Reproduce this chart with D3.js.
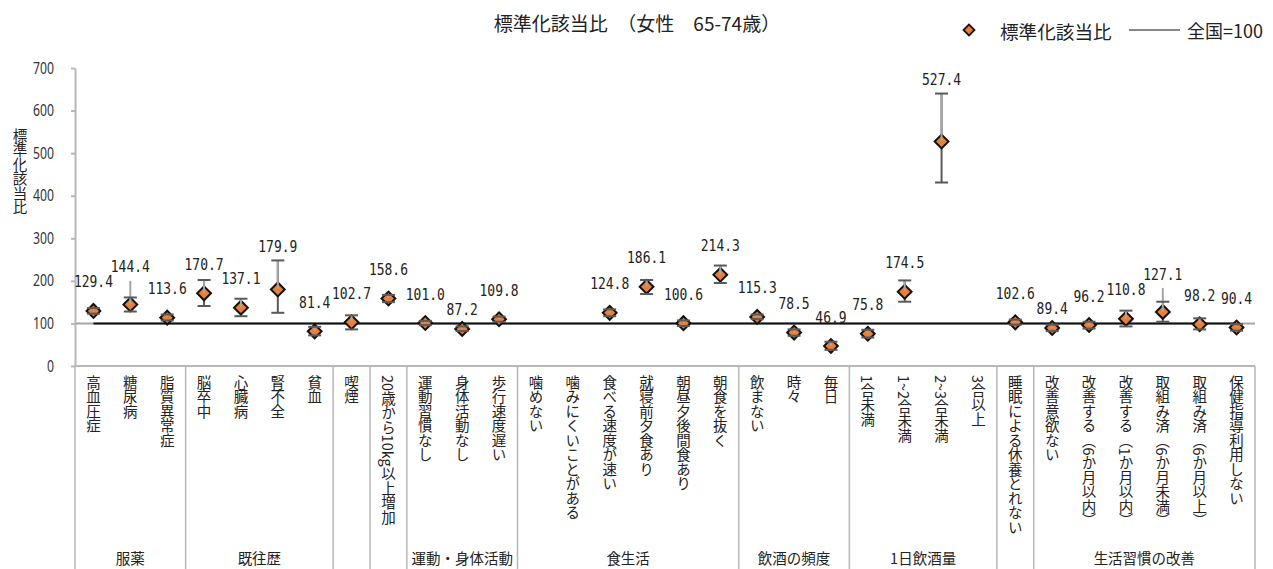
<!DOCTYPE html>
<html>
<head>
<meta charset="utf-8">
<script src="https://cdn.jsdelivr.net/npm/d3@7"></script>
<style>
  body { margin: 0; background: #fff; }
  svg { font-family: "Noto Sans CJK JP", "Noto Sans", sans-serif; }
  .vert { writing-mode: vertical-rl; }
</style>
</head>
<body>
<div id="chart"></div>
<script>
const categories = [
  "高血圧症", "糖尿病", "脂質異常症",
  "脳卒中", "心臓病", "腎不全", "貧血",
  "喫煙",
  "20歳から10kg以上増加",
  "運動習慣なし", "身体活動なし", "歩行速度遅い",
  "噛めない", "噛みにくいことがある", "食べる速度が速い", "就寝前夕食あり", "朝昼夕後間食あり", "朝食を抜く",
  "飲まない", "時々", "毎日",
  "1合未満", "1~2合未満", "2~3合未満", "3合以上",
  "睡眠による休養とれない",
  "改善意欲ない", "改善する（6か月以内）", "改善する（1か月以内）", "取組み済（6か月未満）", "取組み済（6か月以上）", "保健指導利用しない"
];
const values = [
  129.4, 144.4, 113.6,
  170.7, 137.1, 179.9, 81.4,
  102.7,
  158.6,
  101.0, 87.2, 109.8,
  null, null, 124.8, 186.1, 100.6, 214.3,
  115.3, 78.5, 46.9,
  75.8, 174.5, 527.4, null,
  102.6,
  89.4, 96.2, 110.8, 127.1, 98.2, 90.4
];
const ciLow = [
  123, 128, 107,
  141, 117, 125, 72,
  86,
  150,
  96, 82, 104,
  null, null, 117, 169, 94, 195,
  110, 71, 38,
  67, 151, 431, null,
  97,
  82, 88, 93, 104, 86, 83
];
const ciHigh = [
  136, 161, 121,
  202, 158, 248, 92,
  119,
  167,
  106, 93, 116,
  null, null, 133, 202, 107, 236,
  121, 86, 57,
  85, 201, 640, null,
  109,
  97, 104, 130, 151, 112, 98
];
// upper whisker in light grey, when it reaches beyond the capped interval
const lightTop = [
  null, 200, null,
  null, null, null, null,
  null,
  null,
  null, null, null,
  null, null, null, null, null, null,
  null, null, null,
  null, null, null, null,
  null,
  null, null, null, 183, null, null
];
const groupNames = ["服薬", "既往歴", "", "", "運動・身体活動", "食生活", "飲酒の頻度", "1日飲酒量", "", "生活習慣の改善"];
const groupSizes = [3, 4, 1, 1, 3, 6, 3, 4, 1, 6];
const yTicks = [0, 100, 200, 300, 400, 500, 600, 700];
const refValue = 100;

const width = 1273, height = 569;
const plotLeft = 75, plotRight = 1255, plotTop = 68, plotBottom = 366;

const svg = d3.select("#chart").append("svg")
  .attr("width", width)
  .attr("height", height);

const x = d3.scaleBand()
  .domain(d3.range(categories.length))
  .range([plotLeft, plotRight]);
const cx = i => x(i) + x.bandwidth() / 2;

const y = d3.scaleLinear()
  .domain([0, 700])
  .range([plotBottom, plotTop]);

// title
svg.append("text")
  .attr("x", 637).attr("y", 22)
  .attr("text-anchor", "middle")
  .attr("dominant-baseline", "central")
  .attr("font-size", 19)
  .attr("fill", "#222")
  .text("標準化該当比　（女性　65-74歳）");

// legend
const legend = svg.append("g");
legend.append("path")
  .attr("d", d3.symbol(d3.symbolSquare, 60)())
  .attr("transform", "translate(969,30) rotate(45)")
  .attr("fill", "#ed7d31").attr("stroke", "#111").attr("stroke-width", 1.8);
legend.append("text")
  .attr("x", 1000).attr("y", 30)
  .attr("dominant-baseline", "central")
  .attr("font-size", 18.6).attr("fill", "#222")
  .text("標準化該当比");
legend.append("line")
  .attr("x1", 1129).attr("x2", 1180).attr("y1", 30).attr("y2", 30)
  .attr("stroke", "#111").attr("stroke-width", 1);
legend.append("text")
  .attr("x", 1187).attr("y", 30)
  .attr("dominant-baseline", "central")
  .attr("font-size", 18).attr("fill", "#222")
  .text("全国=100");

// y axis title, written vertically
svg.append("text")
  .attr("class", "vert")
  .attr("x", 20).attr("y", 128)
  .attr("font-size", 14.5)
  .attr("fill", "#222")
  .text("標準化該当比");

// y axis
const yAxis = svg.append("g")
  .attr("transform", `translate(${plotLeft},0)`)
  .call(d3.axisLeft(y).tickValues(yTicks).tickSize(4).tickSizeOuter(0).tickPadding(17));
yAxis.select(".domain").attr("stroke", "#b7b7b7").attr("stroke-width", 2);
yAxis.selectAll(".tick line").attr("stroke", "#b7b7b7").attr("stroke-width", 2);
yAxis.selectAll(".tick text")
  .attr("font-size", 16)
  .attr("font-family", "'Noto Sans', sans-serif")
  .attr("fill", "#333")
  .attr("textLength", d => String(d).length * 7)
  .attr("lengthAdjust", "spacingAndGlyphs");

// category table under the plot
svg.append("line")
  .attr("x1", plotLeft).attr("x2", plotRight)
  .attr("y1", plotBottom).attr("y2", plotBottom)
  .attr("stroke", "#b7b7b7").attr("stroke-width", 2);

let start = 0;
const groups = groupNames.map((name, i) => {
  const g = { name: name, start: start, end: start + groupSizes[i] };
  start += groupSizes[i];
  return g;
});
const bounds = [0].concat(groups.map(g => g.end));
const edge = b => b < categories.length ? x(b) : plotRight;

svg.selectAll("line.sep")
  .data(bounds)
  .enter().append("line")
  .attr("class", "sep")
  .attr("x1", edge).attr("x2", edge)
  .attr("y1", plotBottom).attr("y2", height)
  .attr("stroke", "#b7b7b7").attr("stroke-width", 1.5);

svg.selectAll("text.cat")
  .data(categories)
  .enter().append("text")
  .attr("class", "cat vert")
  .attr("x", (d, i) => cx(i))
  .attr("y", 375)
  .attr("font-size", 14.5)
  .attr("fill", "#222")
  .text(d => d);

svg.selectAll("text.group")
  .data(groups.filter(g => g.name))
  .enter().append("text")
  .attr("class", "group")
  .attr("x", g => (edge(g.start) + edge(g.end)) / 2)
  .attr("y", 557)
  .attr("text-anchor", "middle")
  .attr("dominant-baseline", "central")
  .attr("font-size", 14.5)
  .attr("fill", "#222")
  .text(g => g.name);

// national reference line
svg.append("line")
  .attr("x1", plotLeft + 1).attr("x2", plotRight)
  .attr("y1", y(refValue)).attr("y2", y(refValue))
  .attr("stroke", "#a6a6a6").attr("stroke-width", 2);
const refLine = d3.line()
  .x(i => cx(i))
  .y(() => y(refValue));
svg.append("path")
  .datum([0, categories.length - 1])
  .attr("fill", "none")
  .attr("stroke", "#111")
  .attr("stroke-width", 2)
  .attr("d", refLine);

const pts = values.map((v, i) => ({
  i: i, v: v, lo: ciLow[i], hi: ciHigh[i],
  top: lightTop[i] !== null ? lightTop[i] : ciHigh[i]
})).filter(d => d.v !== null);

// error bars: dark capped interval
svg.selectAll("line.ci")
  .data(pts)
  .enter().append("line")
  .attr("class", "ci")
  .attr("x1", d => cx(d.i)).attr("x2", d => cx(d.i))
  .attr("y1", d => y(d.lo)).attr("y2", d => y(d.hi))
  .attr("stroke", "#595959").attr("stroke-width", 2);

// markers
svg.selectAll("path.pt")
  .data(pts)
  .enter().append("path")
  .attr("class", "pt")
  .attr("d", d3.symbol(d3.symbolSquare, 95)())
  .attr("transform", d => `translate(${cx(d.i)},${y(d.v)}) rotate(45)`)
  .attr("fill", "#ed7d31")
  .attr("stroke", "#111")
  .attr("stroke-width", 2);

// light upper whisker over the marker
svg.selectAll("line.up")
  .data(pts)
  .enter().append("line")
  .attr("class", "up")
  .attr("x1", d => cx(d.i)).attr("x2", d => cx(d.i))
  .attr("y1", d => y(d.v)).attr("y2", d => y(d.top))
  .attr("stroke", "#a6a6a6").attr("stroke-width", 2);

// caps
const caps = pts.flatMap(d => [{ i: d.i, v: d.lo }, { i: d.i, v: d.hi }]);
svg.selectAll("line.cap")
  .data(caps)
  .enter().append("line")
  .attr("class", "cap")
  .attr("x1", d => cx(d.i) - 6.5).attr("x2", d => cx(d.i) + 6.5)
  .attr("y1", d => y(d.v)).attr("y2", d => y(d.v))
  .attr("stroke", "#595959").attr("stroke-width", 2);

// data labels: above the point, clear of the whisker;
// a label that runs into its left neighbour and sits lower is pushed down
const charW = 7.8;
const labels = pts.map(d => {
  const txt = d.v.toFixed(1);
  return { d: d, txt: txt, w: txt.length * charW, x: cx(d.i),
           y: Math.min(y(d.v) - 29, y(d.top) - 14) };
});
labels.forEach((l, k) => {
  if (k === 0) return;
  const p = labels[k - 1];
  const gap = (l.x - l.w / 2) - (p.x + p.w / 2);
  if (gap < 3 && l.y > p.y && l.y - p.y < 12) l.y = p.y + 15;
});

svg.selectAll("text.lbl")
  .data(labels)
  .enter().append("text")
  .attr("class", "lbl")
  .attr("x", l => l.x)
  .attr("y", l => l.y)
  .attr("text-anchor", "middle")
  .attr("dominant-baseline", "central")
  .attr("font-family", "'DejaVu Sans Mono', monospace")
  .attr("font-size", 16)
  .attr("fill", "#222")
  .attr("textLength", l => l.w)
  .attr("lengthAdjust", "spacingAndGlyphs")
  .text(l => l.txt);
</script>
</body>
</html>
